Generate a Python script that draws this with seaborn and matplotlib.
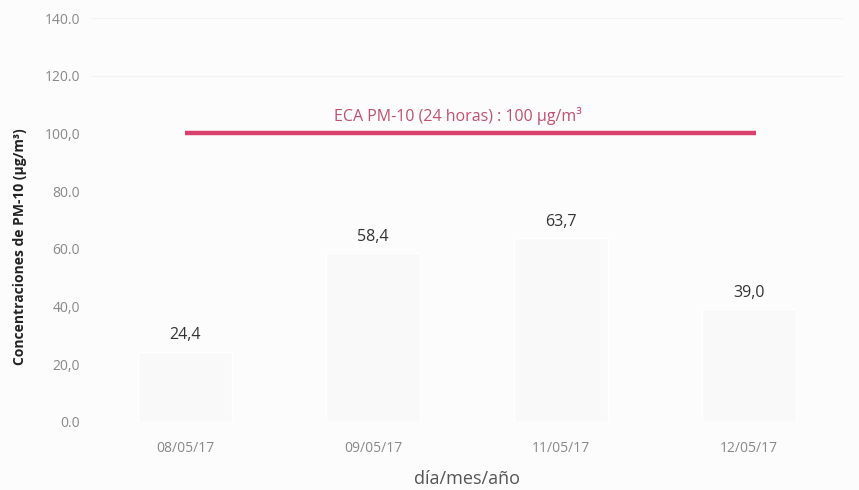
import matplotlib
matplotlib.use("Agg")
import matplotlib.pyplot as plt
import seaborn as sns
import pandas as pd

fechas = ["08/05/17", "09/05/17", "11/05/17", "12/05/17"]
pm10 = [24.4, 58.4, 63.7, 39.0]
etiquetas = ["24,4", "58,4", "63,7", "39,0"]
yticks = [0, 20, 40, 60, 80, 100, 120, 140]
ytick_labels = ["0.0", "20,0", "40,0", "60.0", "80.0", "100,0", "120.0", "140.0"]
eca_valor = 100
eca_texto = "ECA PM-10 (24 horas) : 100 µg/m³"

sns.set_theme(style="white")
plt.rcParams["font.family"] = ["Open Sans", "DejaVu Sans"]

df = pd.DataFrame({"fecha": fechas, "pm10": pm10})

fig = plt.figure(figsize=(8.59, 4.90), dpi=100)
fig.patch.set_facecolor("#fcfcfc")
ax = fig.add_axes([0.106, 0.139, 0.875, 0.824])
ax.set_facecolor("#fcfcfc")

sns.barplot(data=df, x="fecha", y="pm10", color="#f9f9f9", width=0.5, ax=ax)

for i, (v, t) in enumerate(zip(pm10, etiquetas)):
    ax.annotate(t, (i, v), xytext=(0, 12), textcoords="offset points",
                ha="center", va="center", fontsize=11.5, color="#333333")

ax.hlines(eca_valor, -0.0, 3.04, color="#d9416c", linewidth=3.2, zorder=5)
ax.text(1.45, eca_valor + 6, eca_texto, ha="center", va="center",
        fontsize=11.5, color="#c0506e")

for y in [120, 140]:
    ax.axhline(y, color="#f2f2f2", linewidth=0.8, zorder=0)
ax.axhline(0, color="#f0f0f0", linewidth=0.8, zorder=0)

ax.set_ylim(0, 140)
ax.set_xlim(-0.5, 3.5)
ax.set_yticks(yticks)
ax.set_yticklabels(ytick_labels)
ax.tick_params(axis="both", labelsize=10, colors="#888888", length=0)
ax.tick_params(axis="x", pad=14)
ax.tick_params(axis="y", pad=8)
for s in ax.spines.values():
    s.set_visible(False)

ax.set_xlabel("día/mes/año", fontsize=13, color="#555555", labelpad=10)
ax.set_ylabel("Concentraciones de PM-10 (µg/m³)", fontsize=10,
              fontweight="bold", color="#222222")
ax.yaxis.set_label_coords(-0.085, 0.433)

fig.savefig("out.png", dpi=100, facecolor=fig.get_facecolor())
